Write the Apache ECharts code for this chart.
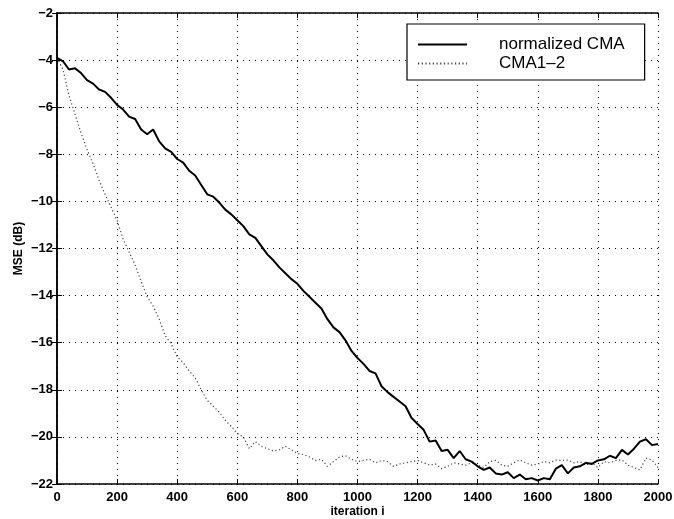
<!DOCTYPE html>
<html>
<head>
<meta charset="utf-8">
<title>MSE vs iteration</title>
<script src="https://cdn.jsdelivr.net/npm/echarts@6/dist/echarts.min.js"></script>
<style>
  html, body { margin: 0; padding: 0; background: #fff; }
  #chart { width: 674px; height: 519px; }
</style>
</head>
<body>
<div id="chart"></div>
<script>
// Iteration index, sampled every 20 iterations
const iterations = [];
for (let i = 0; i <= 2000; i += 20) iterations.push(i);

// MSE (dB) of the normalized CMA equalizer
const normalizedCMA = [
  -3.90, -4.05, -4.40, -4.35, -4.55, -4.85, -5.00, -5.25, -5.35, -5.60,
  -5.90, -6.10, -6.40, -6.50, -6.95, -7.15, -6.95, -7.45, -7.75, -7.90,
  -8.20, -8.35, -8.70, -8.90, -9.30, -9.70, -9.80, -10.05, -10.35, -10.55,
  -10.80, -11.05, -11.40, -11.55, -11.90, -12.25, -12.50, -12.80, -13.05, -13.30,
  -13.50, -13.80, -14.05, -14.30, -14.55, -15.00, -15.35, -15.55, -15.90, -16.35,
  -16.65, -16.90, -17.20, -17.30, -17.85, -18.10, -18.30, -18.50, -18.70, -19.20,
  -19.45, -19.70, -20.20, -20.15, -20.60, -20.55, -20.90, -20.60, -20.95, -21.05,
  -21.25, -21.40, -21.30, -21.55, -21.60, -21.50, -21.75, -21.60, -21.80, -21.75,
  -21.85, -21.75, -21.80, -21.35, -21.20, -21.55, -21.30, -21.25, -21.10, -21.15,
  -21.00, -20.95, -20.80, -20.90, -20.55, -20.75, -20.50, -20.20, -20.10, -20.35,
  -20.30
];

// MSE (dB) of CMA1-2
const cma12 = [
  -3.90, -4.40, -5.50, -6.30, -7.10, -7.80, -8.40, -9.10, -9.70, -10.25,
  -10.80, -11.60, -12.15, -12.70, -13.40, -14.05, -14.45, -15.00, -15.70, -16.05,
  -16.60, -16.85, -17.20, -17.50, -18.00, -18.45, -18.70, -18.95, -19.30, -19.55,
  -19.85, -20.00, -20.50, -20.20, -20.40, -20.50, -20.60, -20.55, -20.40, -20.55,
  -20.70, -20.75, -20.85, -21.00, -20.95, -21.25, -21.05, -20.85, -20.80, -20.95,
  -21.05, -21.00, -20.95, -21.10, -21.00, -21.05, -21.25, -21.15, -21.10, -21.05,
  -21.00, -21.10, -21.20, -21.15, -21.35, -21.25, -21.10, -21.15, -21.20, -21.10,
  -21.20, -21.30, -21.05, -21.00, -21.20, -21.25, -21.10, -20.98, -21.10, -21.20,
  -21.15, -21.05, -21.10, -20.98, -21.00, -20.98, -21.10, -21.05, -21.20, -21.10,
  -21.30, -21.05, -21.10, -21.00, -20.98, -21.20, -21.30, -21.40, -20.90, -20.98,
  -21.30
];

const seriesNames = ['normalized CMA', 'CMA1\u20132'];

const pairs = (xs, ys) => xs.map((x, i) => [x, ys[i]]);
const minus = v => String(v).replace('-', '\u2212');

const FONT = 'Liberation Sans, Arial, Helvetica, sans-serif';
const axisLine = { show: true, lineStyle: { color: '#000', width: 1.5 } };
const tick = { show: true, inside: true, length: 5, lineStyle: { color: '#000', width: 1 } };
const grid = { show: true, lineStyle: { color: '#000', width: 1, type: [1, 5] } };
const labelStyle = { color: '#000', fontFamily: FONT, fontSize: 13, fontWeight: 'bold' };

const solidStyle = { color: '#000', width: 2 };
const dottedStyle = { color: '#444', width: 1.2, type: [1.2, 2.5] };

const chart = echarts.init(document.getElementById('chart'), null, { renderer: 'canvas' });
chart.setOption({
  animation: false,
  backgroundColor: '#fff',
  grid: { left: 57, right: 16, top: 13, bottom: 35, containLabel: false, outerBoundsMode: 'none' },
  legend: {
    orient: 'vertical',
    left: 407, top: 24,
    padding: [12, 20, 8, 10],
    itemGap: 2,
    itemWidth: 49, itemHeight: 17,
    backgroundColor: '#fff',
    borderColor: '#000', borderWidth: 1.2, borderRadius: 0,
    data: seriesNames,
    // line samples only, no marker on them
    itemStyle: { color: 'rgba(0,0,0,0)', borderColor: 'rgba(0,0,0,0)', borderWidth: 0 },
    textStyle: { color: '#000', fontFamily: FONT, fontSize: 17, padding: [0, 0, 0, 27] }
  },
  xAxis: [{
    type: 'value', min: 0, max: 2000, interval: 200,
    name: 'iteration i', nameLocation: 'middle', nameGap: 22, nameMoveOverlap: false,
    nameTextStyle: { color: '#000', fontFamily: FONT, fontSize: 12, fontWeight: 'bold' },
    axisLine, axisTick: tick, splitLine: grid,
    axisLabel: Object.assign({ margin: 7, formatter: v => String(v) }, labelStyle)
  }, {
    type: 'value', position: 'top', min: 0, max: 2000, interval: 200,
    axisLine, axisTick: tick, splitLine: { show: false }, axisLabel: { show: false }
  }],
  yAxis: [{
    type: 'value', min: -22, max: -2, interval: 2,
    name: 'MSE (dB)', nameLocation: 'middle', nameGap: 32, nameMoveOverlap: false,
    nameTextStyle: { color: '#000', fontFamily: FONT, fontSize: 12, fontWeight: 'bold' },
    axisLine, axisTick: tick, splitLine: grid,
    axisLabel: Object.assign({ margin: 4, formatter: minus }, labelStyle)
  }, {
    type: 'value', position: 'right', min: -22, max: -2, interval: 2,
    axisLine, axisTick: tick, splitLine: { show: false }, axisLabel: { show: false }
  }],
  series: [{
    name: seriesNames[0], type: 'line', symbol: 'none',
    data: pairs(iterations, normalizedCMA),
    lineStyle: solidStyle,
    itemStyle: { color: '#000' }, z: 3
  }, {
    name: seriesNames[1], type: 'line', symbol: 'none',
    data: pairs(iterations, cma12),
    lineStyle: dottedStyle,
    itemStyle: { color: '#444' }, z: 2
  }]
});
</script>
</body>
</html>
